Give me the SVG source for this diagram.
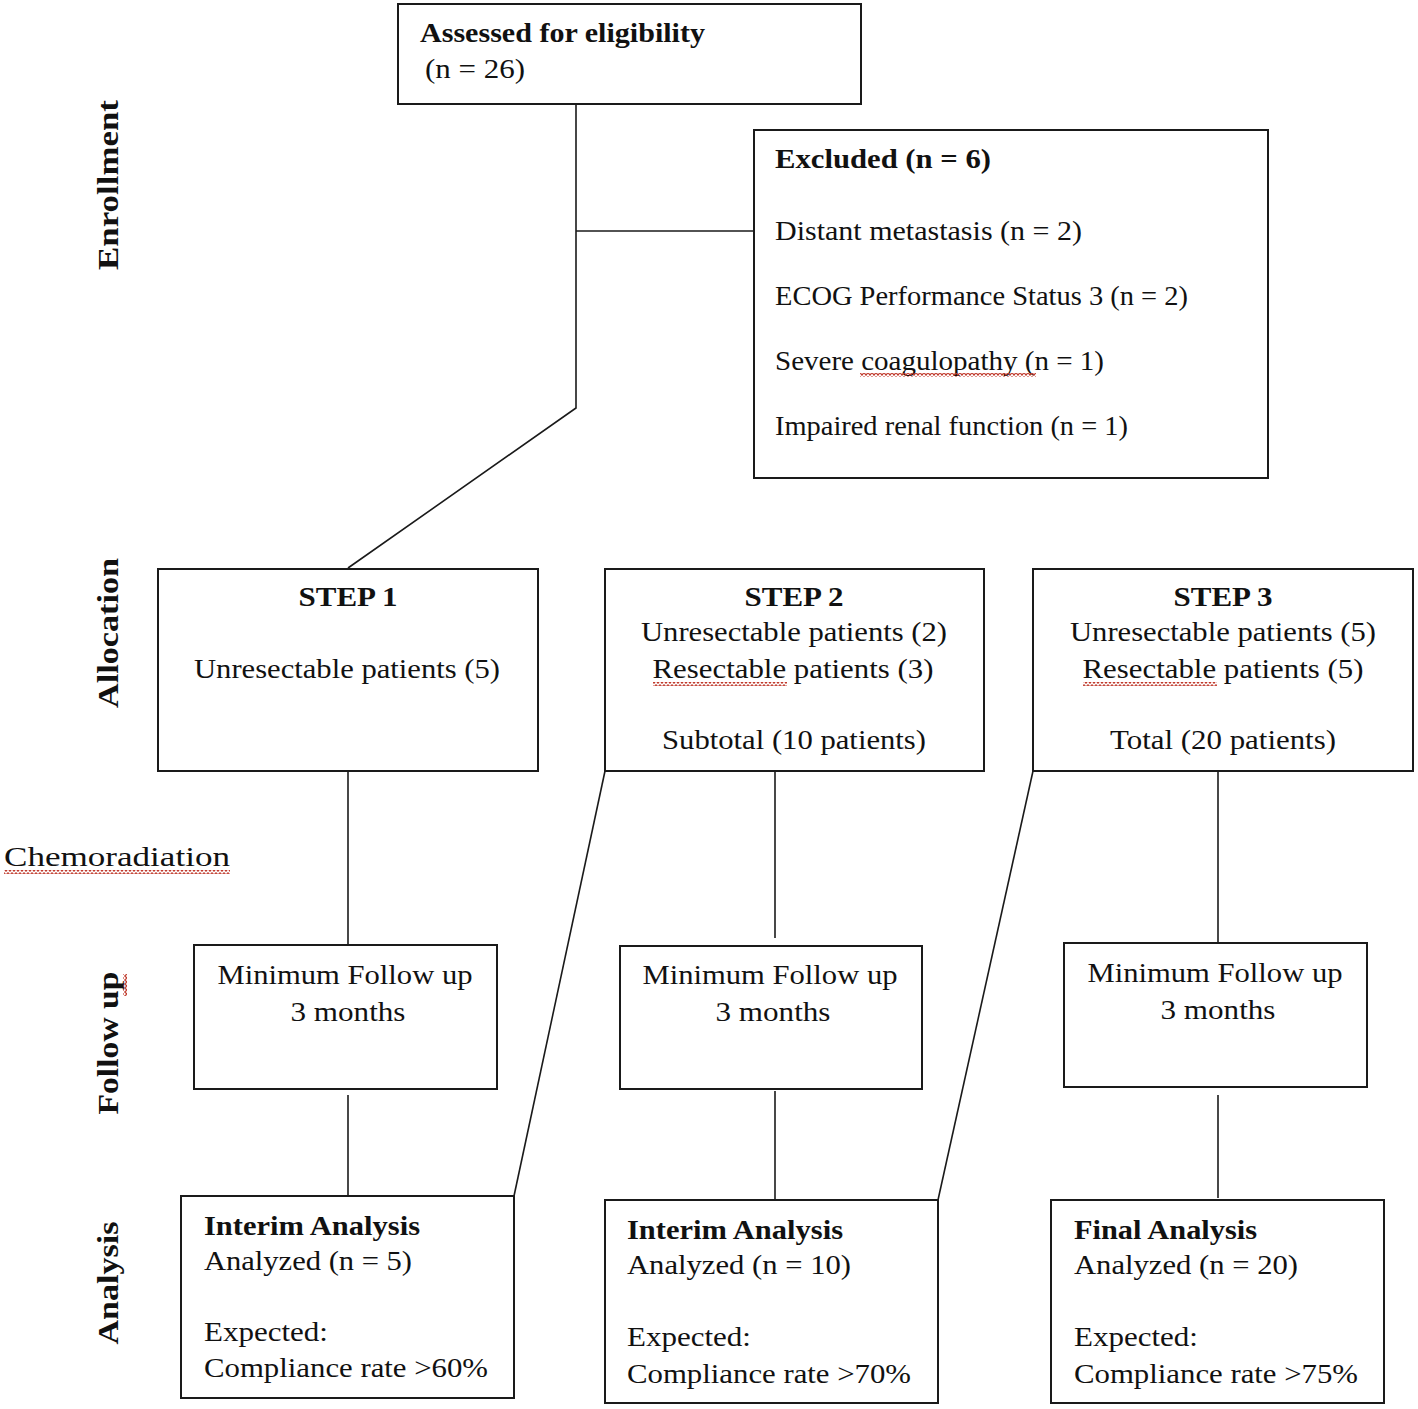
<svg xmlns="http://www.w3.org/2000/svg" width="1418" height="1409" viewBox="0 0 1418 1409">
<defs>
<style>
.box{fill:#fff;stroke:#1a1a1a;stroke-width:2}
.ln{fill:none;stroke:#1a1a1a;stroke-width:1.6}
text{font-family:"Liberation Serif","Times New Roman",serif;font-size:28px;fill:#111}
.b{font-weight:bold}
.c{text-anchor:middle}
.side{font-weight:bold;font-size:29px;text-anchor:middle}
.sq{fill:url(#squig)}
.sqv{fill:url(#squigv)}
</style>
<pattern id="squig" width="4" height="4" patternUnits="userSpaceOnUse">
<path d="M0,0.5 L2,3.2 L4,0.5" fill="none" stroke="#c0392b" stroke-width="1.2"/>
</pattern>
<pattern id="squigv" width="4" height="4" patternUnits="userSpaceOnUse">
<path d="M0.5,0 L3.2,2 L0.5,4" fill="none" stroke="#c0392b" stroke-width="1.2"/>
</pattern>
</defs>
<rect width="1418" height="1409" fill="#fff"/>

<g id="connectors">
<polyline class="ln" points="576,104 576,408 348,568"/>
<line class="ln" x1="576" y1="231" x2="754" y2="231"/>
<line class="ln" x1="348" y1="771" x2="348" y2="945"/>
<line class="ln" x1="348" y1="1095" x2="348" y2="1196"/>
<line class="ln" x1="775" y1="771" x2="775" y2="938"/>
<line class="ln" x1="775" y1="1091" x2="775" y2="1200"/>
<line class="ln" x1="1218" y1="771" x2="1218" y2="943"/>
<line class="ln" x1="1218" y1="1095" x2="1218" y2="1198"/>
<line class="ln" x1="605" y1="771" x2="514" y2="1196"/>
<line class="ln" x1="1033" y1="771" x2="938" y2="1200"/>
</g>

<g id="side-labels">
<text class="side" transform="translate(118,185) rotate(-90)" textLength="170" lengthAdjust="spacingAndGlyphs">Enrollment</text>
<text class="side" transform="translate(118,633) rotate(-90)" textLength="150" lengthAdjust="spacingAndGlyphs">Allocation</text>
<text class="side" transform="translate(118,1043) rotate(-90)" textLength="143" lengthAdjust="spacingAndGlyphs">Follow up</text>
<rect class="sqv" x="123" y="974" width="4" height="22"/>
<text class="side" transform="translate(118,1283) rotate(-90)" textLength="123" lengthAdjust="spacingAndGlyphs">Analysis</text>
<text x="4" y="866" textLength="226" lengthAdjust="spacingAndGlyphs">Chemoradiation</text>
<rect class="sq" x="4" y="870" width="226" height="4"/>
</g>

<g id="assessed">
<rect class="box" x="398" y="4" width="463" height="100"/>
<text class="b" x="420" y="42" textLength="285" lengthAdjust="spacingAndGlyphs">Assessed for eligibility</text>
<text x="425" y="78" textLength="100" lengthAdjust="spacingAndGlyphs">(n = 26)</text>
</g>

<g id="excluded">
<rect class="box" x="754" y="130" width="514" height="348"/>
<text class="b" x="775" y="168" textLength="216" lengthAdjust="spacingAndGlyphs">Excluded (n = 6)</text>
<text x="775" y="240" textLength="307" lengthAdjust="spacingAndGlyphs">Distant metastasis  (n = 2)</text>
<text x="775" y="305" textLength="413" lengthAdjust="spacingAndGlyphs">ECOG Performance Status 3 (n = 2)</text>
<text x="775" y="370" textLength="329" lengthAdjust="spacingAndGlyphs">Severe coagulopathy  (n = 1)</text>
<rect class="sq" x="860" y="373" width="176" height="4"/>
<text x="775" y="435" textLength="353" lengthAdjust="spacingAndGlyphs">Impaired renal function (n = 1)</text>
</g>

<g id="step1">
<rect class="box" x="158" y="569" width="380" height="202"/>
<text class="b c" x="348" y="606" textLength="99" lengthAdjust="spacingAndGlyphs">STEP 1</text>
<text class="c" x="347" y="678" textLength="306" lengthAdjust="spacingAndGlyphs">Unresectable patients (5)</text>
</g>

<g id="step2">
<rect class="box" x="605" y="569" width="379" height="202"/>
<text class="b c" x="794" y="606" textLength="99" lengthAdjust="spacingAndGlyphs">STEP 2</text>
<text class="c" x="794" y="641" textLength="306" lengthAdjust="spacingAndGlyphs">Unresectable patients (2)</text>
<text class="c" x="793" y="678" textLength="281" lengthAdjust="spacingAndGlyphs">Resectable patients  (3)</text>
<rect class="sq" x="653" y="682" width="134" height="4"/>
<text class="c" x="794" y="749" textLength="264" lengthAdjust="spacingAndGlyphs">Subtotal (10 patients)</text>
</g>

<g id="step3">
<rect class="box" x="1033" y="569" width="380" height="202"/>
<text class="b c" x="1223" y="606" textLength="99" lengthAdjust="spacingAndGlyphs">STEP 3</text>
<text class="c" x="1223" y="641" textLength="306" lengthAdjust="spacingAndGlyphs">Unresectable patients (5)</text>
<text class="c" x="1223" y="678" textLength="281" lengthAdjust="spacingAndGlyphs">Resectable patients  (5)</text>
<rect class="sq" x="1083" y="682" width="134" height="4"/>
<text class="c" x="1223" y="749" textLength="226" lengthAdjust="spacingAndGlyphs">Total (20 patients)</text>
</g>

<g id="followup1">
<rect class="box" x="194" y="945" width="303" height="144"/>
<text class="c" x="345" y="984" textLength="255" lengthAdjust="spacingAndGlyphs">Minimum  Follow up</text>
<text class="c" x="348" y="1021" textLength="115" lengthAdjust="spacingAndGlyphs">3 months</text>
</g>
<g id="followup2">
<rect class="box" x="620" y="946" width="302" height="143"/>
<text class="c" x="770" y="984" textLength="255" lengthAdjust="spacingAndGlyphs">Minimum  Follow up</text>
<text class="c" x="773" y="1021" textLength="115" lengthAdjust="spacingAndGlyphs">3 months</text>
</g>
<g id="followup3">
<rect class="box" x="1064" y="943" width="303" height="144"/>
<text class="c" x="1215" y="982" textLength="255" lengthAdjust="spacingAndGlyphs">Minimum  Follow up</text>
<text class="c" x="1218" y="1019" textLength="115" lengthAdjust="spacingAndGlyphs">3 months</text>
</g>

<g id="analysis1">
<rect class="box" x="181" y="1196" width="333" height="202"/>
<text class="b" x="204" y="1235" textLength="216" lengthAdjust="spacingAndGlyphs">Interim Analysis</text>
<text x="204" y="1270" textLength="208" lengthAdjust="spacingAndGlyphs">Analyzed (n = 5)</text>
<text x="204" y="1341" textLength="124" lengthAdjust="spacingAndGlyphs">Expected:</text>
<text x="204" y="1377" textLength="284" lengthAdjust="spacingAndGlyphs">Compliance rate &gt;60%</text>
</g>
<g id="analysis2">
<rect class="box" x="605" y="1200" width="333" height="203"/>
<text class="b" x="627" y="1239" textLength="216" lengthAdjust="spacingAndGlyphs">Interim Analysis</text>
<text x="627" y="1274" textLength="224" lengthAdjust="spacingAndGlyphs">Analyzed (n = 10)</text>
<text x="627" y="1346" textLength="124" lengthAdjust="spacingAndGlyphs">Expected:</text>
<text x="627" y="1383" textLength="284" lengthAdjust="spacingAndGlyphs">Compliance rate &gt;70%</text>
</g>
<g id="analysis3">
<rect class="box" x="1051" y="1200" width="333" height="203"/>
<text class="b" x="1074" y="1239" textLength="183" lengthAdjust="spacingAndGlyphs">Final Analysis</text>
<text x="1074" y="1274" textLength="224" lengthAdjust="spacingAndGlyphs">Analyzed (n = 20)</text>
<text x="1074" y="1346" textLength="124" lengthAdjust="spacingAndGlyphs">Expected:</text>
<text x="1074" y="1383" textLength="284" lengthAdjust="spacingAndGlyphs">Compliance rate &gt;75%</text>
</g>
</svg>
